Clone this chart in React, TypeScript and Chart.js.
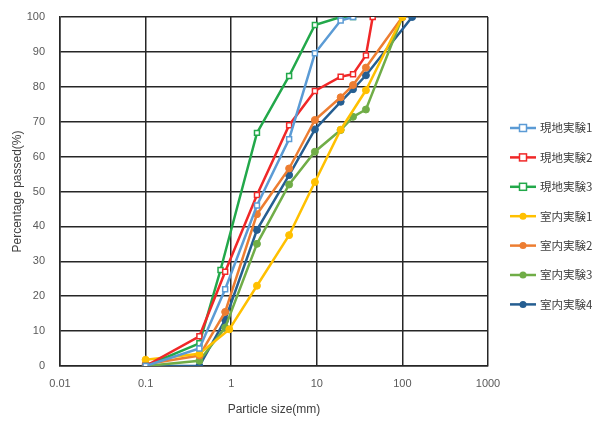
import React, { useEffect, useRef } from "react";
import { Chart, registerables } from "chart.js";

Chart.register(...registerables);

const xTickValues = [0.01, 0.1, 1, 10, 100, 1000];
const yTickStep = 10;

const field1Label = "現地実験1";
const field1Size = [0.1, 0.425, 0.85, 2, 4.75, 9.5, 19, 26.5];
const field1Pass = [0, 5, 22, 46, 65, 89.6, 99, 100];

const field2Label = "現地実験2";
const field2Size = [0.1, 0.425, 0.85, 2, 4.75, 9.5, 19, 26.5, 37.5, 45];
const field2Pass = [0, 8.5, 27, 49, 69, 78.8, 82.9, 83.6, 89, 100];

const field3Label = "現地実験3";
const field3Size = [0.1, 0.425, 0.75, 2, 4.75, 9.5, 19, 26.5];
const field3Pass = [0, 6.5, 27.5, 66.8, 83.1, 97.7, 100, 100];

const lab1Label = "室内実験1";
const lab1Size = [0.1, 0.425, 0.95, 2, 4.75, 9.5, 19, 37.5, 100];
const lab1Pass = [1.8, 3.5, 10.5, 23, 37.5, 52.7, 67.7, 79, 100];

const lab2Label = "室内実験2";
const lab2Size = [0.1, 0.425, 0.85, 2, 4.75, 9.5, 19, 26.5, 37.5, 100];
const lab2Pass = [0.5, 3, 15.5, 43.5, 56.6, 70.5, 77, 80.5, 85.5, 100];

const lab3Label = "室内実験3";
const lab3Size = [0.1, 0.425, 0.85, 2, 4.75, 9.5, 19, 26.5, 37.5, 100];
const lab3Pass = [0, 1.5, 11, 35, 52, 61.4, 67.6, 71.4, 73.5, 100];

const lab4Label = "室内実験4";
const lab4Size = [0.1, 0.425, 0.85, 2, 4.75, 9.5, 19, 26.5, 37.5, 130];
const lab4Pass = [0, 0, 13.2, 39, 54.7, 67.8, 75.7, 79.3, 83.3, 100];

const pairs = (xs: number[], ys: number[]) => xs.map((x, i) => ({ x, y: ys[i] }));

const FONT = "'Liberation Sans', Arial, sans-serif";

function fieldSet(label: string, xs: number[], ys: number[], color: string) {
  return {
    label,
    data: pairs(xs, ys),
    borderColor: color,
    backgroundColor: "#ffffff",
    borderWidth: 2.5,
    pointStyle: "rect" as const,
    pointRadius: 3.5,
    pointBorderWidth: 1.5,
    pointBorderColor: color,
    pointBackgroundColor: "#ffffff",
    tension: 0,
  };
}

function labSet(label: string, xs: number[], ys: number[], color: string) {
  return {
    label,
    data: pairs(xs, ys),
    borderColor: color,
    backgroundColor: color,
    borderWidth: 2.5,
    pointStyle: "circle" as const,
    pointRadius: 3.5,
    pointBorderWidth: 1,
    pointBorderColor: color,
    pointBackgroundColor: color,
    tension: 0,
  };
}

const legendPlugin = {
  id: "sideLegend",
  afterDraw(chart: any) {
    const ctx = chart.ctx;
    const sets = chart.data.datasets;
    const x0 = 510;
    const y0 = 128;
    const gap = 29.4;
    ctx.save();
    sets.forEach((ds: any, i: number) => {
      const y = y0 + i * gap;
      ctx.strokeStyle = ds.borderColor;
      ctx.lineWidth = 2.5;
      ctx.beginPath();
      ctx.moveTo(x0, y);
      ctx.lineTo(x0 + 26, y);
      ctx.stroke();
      const cx = x0 + 13;
      if (ds.pointStyle === "rect") {
        ctx.fillStyle = "#ffffff";
        ctx.lineWidth = 1.5;
        ctx.fillRect(cx - 3.5, y - 3.5, 7, 7);
        ctx.strokeRect(cx - 3.5, y - 3.5, 7, 7);
      } else {
        ctx.fillStyle = ds.borderColor;
        ctx.beginPath();
        ctx.arc(cx, y, 3.5, 0, Math.PI * 2);
        ctx.fill();
      }
      ctx.fillStyle = "#404040";
      ctx.font = "11.5px 'Noto Sans CJK JP', sans-serif";
      ctx.textBaseline = "middle";
      ctx.textAlign = "left";
      ctx.fillText(ds.label, x0 + 30, y);
    });
    ctx.restore();
  },
};

export default function App() {
  const ref = useRef<HTMLCanvasElement | null>(null);
  useEffect(() => {
    if (!ref.current) return;
    const chart = new Chart(ref.current, {
      type: "line",
      data: {
        datasets: [
          fieldSet(field1Label, field1Size, field1Pass, "#5B9BD5"),
          fieldSet(field2Label, field2Size, field2Pass, "#F02828"),
          fieldSet(field3Label, field3Size, field3Pass, "#22A84A"),
          labSet(lab1Label, lab1Size, lab1Pass, "#FFC000"),
          labSet(lab2Label, lab2Size, lab2Pass, "#ED7D31"),
          labSet(lab3Label, lab3Size, lab3Pass, "#70AD47"),
          labSet(lab4Label, lab4Size, lab4Pass, "#255E91"),
        ] as any,
      },
      options: {
        animation: false,
        responsive: false,
        maintainAspectRatio: false,
        layout: { padding: { top: 17, right: 110, bottom: 0, left: 10 } },
        plugins: {
          legend: { display: false },
          tooltip: { enabled: false },
        },
        scales: {
          x: {
            type: "logarithmic",
            min: 0.01,
            max: 1000,
            afterBuildTicks: (scale: any) => {
              scale.ticks = xTickValues.map((v) => ({ value: v }));
            },
            afterFit: (scale: any) => {
              scale.height = 55;
            },
            ticks: {
              autoSkip: false,
              maxRotation: 0,
              padding: 11,
              color: "#595959",
              font: { family: FONT, size: 11 },
              callback: (v: any) => String(v),
            },
            grid: { color: "#262626", lineWidth: 1.5, drawTicks: false },
            border: { color: "#262626", width: 1.5 },
            title: {
              display: true,
              text: "Particle size(mm)",
              color: "#404040",
              font: { family: FONT, size: 12 },
              padding: { top: 4, bottom: 4 },
            },
          },
          y: {
            min: 0,
            max: 100,
            afterFit: (scale: any) => {
              scale.width = 50;
            },
            ticks: {
              stepSize: yTickStep,
              padding: 15,
              color: "#595959",
              font: { family: FONT, size: 11, lineHeight: 0.2 },
            },
            grid: { color: "#262626", lineWidth: 1.5, drawTicks: false },
            border: { color: "#262626", width: 1.5 },
            title: {
              display: true,
              text: "Percentage passed(%)",
              color: "#404040",
              font: { family: FONT, size: 12 },
              padding: { top: 0, bottom: 2 },
            },
          },
        },
      } as any,
      plugins: [legendPlugin],
    });
    return () => chart.destroy();
  }, []);
  return (
    <div style={{ position: "fixed", left: 0, top: 0, width: 598, height: 421, background: "#fff" }}>
      <canvas ref={ref} width={598} height={421} style={{ width: 598, height: 421 }} />
    </div>
  );
}
